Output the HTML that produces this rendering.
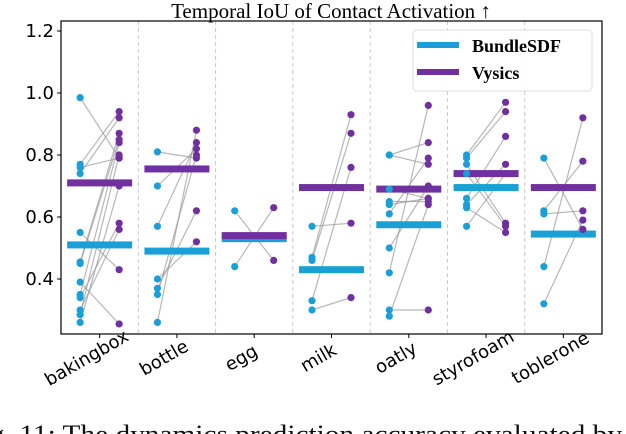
<!DOCTYPE html>
<html><head><meta charset="utf-8"><style>
body{margin:0;background:#fff;width:626px;height:434px;overflow:hidden}
svg{display:block}
</style></head><body>
<svg id="chart" width="626" height="434" xmlns="http://www.w3.org/2000/svg">
<text x="331" y="18" text-anchor="middle" font-family="Liberation Serif, serif" font-size="21">Temporal IoU of Contact Activation ↑</text>
<g id="grid"></g><g id="lines"></g><g id="means"></g><g id="points"></g><g id="axes"></g>
<g>
<rect x="413" y="30" width="179" height="61" rx="4" fill="#fff" fill-opacity="0.9" stroke="#ddd"/>
<rect x="417" y="42" width="42" height="6" fill="#1a9fd6"/>
<text x="472" y="52" font-family="Liberation Serif, serif" font-weight="bold" font-size="18">BundleSDF</text>
<rect x="417" y="69" width="42" height="6" fill="#7030a0"/>
<text x="472" y="79" font-family="Liberation Serif, serif" font-weight="bold" font-size="18">Vysics</text>
</g>
<text x="-10" y="443" textLength="632" lengthAdjust="spacingAndGlyphs" font-family="Liberation Serif, serif" font-size="26" fill="#111">g. 11: The dynamics prediction accuracy evaluated by</text>
</svg>
<script>
const categories=["bakingbox","bottle","egg","milk","oatly","styrofoam","toblerone"];
const bundleVals=[
[0.985,0.77,0.76,0.74,0.55,0.455,0.45,0.39,0.35,0.34,0.30,0.285,0.26],
[0.81,0.70,0.57,0.40,0.37,0.35,0.26],
[0.62,0.44],
[0.57,0.47,0.46,0.33,0.30],
[0.80,0.80,0.69,0.65,0.64,0.61,0.50,0.42,0.30,0.28],
[0.80,0.79,0.77,0.74,0.66,0.64,0.63,0.57],
[0.79,0.62,0.61,0.44,0.32]];
const vysicsVals=[
[0.79,0.94,0.79,0.92,0.43,0.87,0.85,0.255,0.84,0.58,0.56,0.80,0.70],
[0.79,0.82,0.84,0.52,0.62,0.80,0.88],
[0.46,0.63],
[0.58,0.93,0.87,0.76,0.34],
[0.77,0.84,0.66,0.65,0.66,0.79,0.70,0.96,0.30,0.64],
[0.97,0.94,0.58,0.57,0.86,0.77,0.55,0.74],
[0.56,0.78,0.62,0.92,0.59]];
const bundleMeans=[0.51,0.49,0.53,0.43,0.575,0.695,0.545];
const vysicsMeans=[0.71,0.755,0.54,0.695,0.69,0.74,0.695];
const yTicks=[0.4,0.6,0.8,1.0,1.2];
const X0=61,X1=602,Y0=21,Y1=334,CW=(X1-X0)/categories.length;
const yS=v=>279-(v-0.4)*310;
const xC=i=>X0+CW*i+CW/2;
const NS="http://www.w3.org/2000/svg";
function mk(t,a,p){const e=document.createElementNS(NS,t);for(const k in a)e.setAttribute(k,a[k]);document.getElementById(p).appendChild(e);return e;}
categories.forEach((c,i)=>{
 if(i>0){const g=mk("line",{x1:X0+CW*i,x2:X0+CW*i,y1:Y0,y2:Y1,stroke:"#c8c8c8","stroke-dasharray":"4,3"},"grid");
 
 }
 const bx=xC(i)-19.5,vx=xC(i)+19.5;
 bundleVals[i].forEach((b,j)=>{
  const l=mk("line",{x1:bx,y1:yS(b),x2:vx,y2:yS(vysicsVals[i][j]),stroke:"#999","stroke-opacity":"0.7","stroke-width":"1.2"},"lines");
  
  
  const p=mk("circle",{cx:bx,cy:yS(b),r:3.6,fill:"#1a9fd6"},"points");
  
  
  const q=mk("circle",{cx:vx,cy:yS(vysicsVals[i][j]),r:3.6,fill:"#7030a0"},"points");
  
  
 });
 const mb=mk("rect",{x:xC(i)-32.5,y:yS(bundleMeans[i])-3.5,width:65,height:7,fill:"#1a9fd6"},"means");
 
 
 const mv=mk("rect",{x:xC(i)-32.5,y:yS(vysicsMeans[i])-3.5,width:65,height:7,fill:"#7030a0"},"means");
 
 
 mk("line",{x1:xC(i),x2:xC(i),y1:Y1,y2:Y1+4,stroke:"#000"},"axes");
 const t=mk("text",{x:0,y:0,"text-anchor":"middle","font-family":"DejaVu Sans, sans-serif","font-size":"18",transform:`translate(${xC(i)-10},${Y1+29}) rotate(-30)`},"axes");
 t.textContent=c;
 
 
});
mk("rect",{x:X0,y:Y0,width:X1-X0,height:Y1-Y0,fill:"none",stroke:"#000","stroke-width":"1.2"},"axes");
yTicks.forEach(v=>{
 mk("line",{x1:X0-4,x2:X0,y1:yS(v),y2:yS(v),stroke:"#000"},"axes");
 const t=mk("text",{x:X0-7,y:yS(v)+6,"text-anchor":"end","font-family":"DejaVu Sans, sans-serif","font-size":"18"},"axes");
 t.textContent=v.toFixed(1);
 
 
});
</script>
</body></html>
